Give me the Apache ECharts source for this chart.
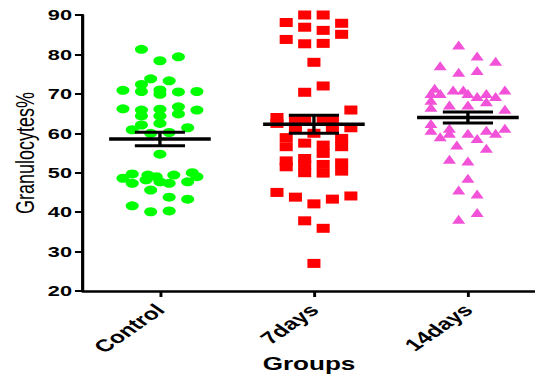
<!DOCTYPE html>
<html>
<head>
<meta charset="utf-8">
<script src="https://cdn.jsdelivr.net/npm/echarts@6/dist/echarts.min.js"></script>
<style>
html,body{margin:0;padding:0;overflow:hidden;background:#fff;}
#wrap{width:535px;height:379px;overflow:hidden;}
#chart{width:369px;height:379px;transform:scaleX(1.45);transform-origin:0 0;}
</style>
</head>
<body>
<div id="wrap"><div id="chart"></div></div>
<script>
// ---- data ----
const categories = ['Control', '7days', '14days'];
const yTicks = [20, 30, 40, 50, 60, 70, 80, 90];

// values and their jitter column (in swarm columns) per group
const controlValues = [81.3,78.4,79.4,73.8,73.3,72.4,70.9,70.6,71.0,69.9,70.5,70.6,66.2,65.9,66.1,66.7,65.9,64.4,64.4,64.9,62.5,62.1,60.9,61.4,60.0,60.2,54.7,49.7,48.6,47.3,49.4,49.0,48.2,47.7,49.4,47.3,50.0,49.0,47.7,45.6,43.8,43.3,41.6,40.1,40.3];
const controlCols   = [-2,0,2,-1,1,-2,-4,-2,0,0,2,4,-4,-2,0,2,4,-2,0,2,0,-2,-3,3,-1,1,0,-3,-4,-3,-1.3,-0.4,-1.5,0,1.5,1,3.5,4,3,-1,1,3,-3,-1,1];

const days7Values = [90.0,90.0,88.1,87.9,86.9,86.1,85.1,83.8,82.7,82.8,78.0,72.0,70.4,65.9,64.0,62.5,63.4,61.3,63.4,61.3,63.4,63.4,60.0,61.4,58.9,58.7,56.6,57.5,57.0,54.9,56.6,53.0,51.5,53.6,52.0,50.0,52.1,49.9,52.5,50.4,45.0,43.8,42.1,43.3,44.1,37.8,35.9,27.0];
const days7Cols   = [-1,1,-3,3,-1,1,3,-3,-1,1,0,1,-1,4,-4,-4,-2,-2,2,2,-1,1,0,4,-3,3,-3,-1,1,1,3,-3,-3,-1,-1,-1,1,1,3,3,-4,-2,0,2,4,-1,1,0];

const days14Values = [82.4,79.6,78.3,77.1,75.5,75.9,71.4,70.1,70.1,71.0,71.0,70.1,69.3,70.1,69.3,71.0,68.4,67.2,67.2,68.0,66.1,66.6,62.5,60.8,61.3,60.0,60.0,60.8,61.3,59.1,58.7,60.0,57.0,56.2,53.4,53.0,48.6,45.6,44.6,39.9,38.2];
const days14Cols   = [-1,1,3,-3,-1,1,-3.6,-4,-3,-1.6,-0.5,0,1,2,3,4,-4,-2,0,2,4,-4,-4,-4,-2,-2,0,2,4,-3,1,3,-1.2,2,-2,0,0,-1,1,1,-1];

// mean and SEM per group, as drawn
const means = [58.55, 62.3, 64.0];
const sems  = [1.7, 2.3, 1.4];

// ---- build ----
const colStep = 0.06;
function pts(g, vals, cols) {
  return vals.map((v, i) => [g + cols[i] * colStep, v]);
}
const summary = means.map((m, i) => [i, m, sems[i]]);

const chart = echarts.init(document.getElementById('chart'), null, {renderer: 'svg'});
const font = 'Liberation Sans, Arial, sans-serif';
chart.setOption({
  animation: false,
  backgroundColor: '#fff',
  grid: {left: 57.2, right: 0, top: 15, bottom: 88, containLabel: false, outerBoundsMode: 'none'},
  xAxis: {
    type: 'value', min: -0.5, max: 2.436,
    name: 'Groups', nameLocation: 'middle', nameGap: 64, nameMoveOverlap: false,
    nameTextStyle: {fontFamily: font, fontWeight: 'bold', fontSize: 18, color: '#000'},
    splitLine: {show: false},
    axisLine: {show: true, onZero: false, lineStyle: {color: '#000', width: 2.5}},
    axisTick: {show: true, customValues: [0, 1, 2], length: 6, lineStyle: {color: '#000', width: 2}},
    axisLabel: {
      customValues: [0, 1, 2], rotate: 45, margin: 16,
      fontFamily: font, fontWeight: 'bold', fontSize: 17, color: '#000',
      formatter: v => categories[Math.round(v)] || ''
    }
  },
  yAxis: {
    type: 'value', min: 20, max: 90, interval: 10,
    name: 'Granulocytes%', nameLocation: 'middle', nameGap: 31, nameRotate: 90, nameMoveOverlap: false,
    nameTextStyle: {fontFamily: font, fontSize: 18, color: '#000'},
    splitLine: {show: false},
    axisLine: {show: true, onZero: false, lineStyle: {color: '#000', width: 2.2}},
    axisTick: {show: true, length: 5.5, lineStyle: {color: '#000', width: 2}},
    axisLabel: {margin: 7.5, fontFamily: font, fontWeight: 'bold', fontSize: 15, color: '#000',
      formatter: v => yTicks.includes(v) ? String(v) : ''}
  },
  series: [
    {type: 'scatter', data: pts(0, controlValues, controlCols), symbol: 'circle', symbolSize: 9,
     itemStyle: {color: '#00FF00', opacity: 1}},
    {type: 'scatter', data: pts(1, days7Values, days7Cols), symbol: 'rect', symbolSize: [9, 9],
     itemStyle: {color: '#FF0000', opacity: 1}},
    {type: 'scatter', data: pts(2, days14Values, days14Cols), symbol: 'triangle', symbolSize: [9, 9],
     itemStyle: {color: '#F252D8', opacity: 1}},
    {type: 'custom', z: 10, data: summary,
     renderItem: function (params, api) {
       const g = api.value(0), m = api.value(1), s = api.value(2);
       const mL = api.coord([g - 0.33, m]), mR = api.coord([g + 0.33, m]);
       const tL = api.coord([g - 0.163, m + s]), tR = api.coord([g + 0.163, m + s]);
       const bL = api.coord([g - 0.163, m - s]), bR = api.coord([g + 0.163, m - s]);
       const top = api.coord([g, m + s]), bot = api.coord([g, m - s]);
       const st = (w) => ({stroke: '#000', lineWidth: w});
       return {type: 'group', children: [
         {type: 'line', shape: {x1: mL[0], y1: mL[1], x2: mR[0], y2: mR[1]}, style: st(3.5)},
         {type: 'line', shape: {x1: tL[0], y1: tL[1], x2: tR[0], y2: tR[1]}, style: st(3)},
         {type: 'line', shape: {x1: bL[0], y1: bL[1], x2: bR[0], y2: bR[1]}, style: st(3)},
         {type: 'line', shape: {x1: top[0], y1: top[1], x2: bot[0], y2: bot[1]}, style: st(2.3)}
       ]};
     }}
  ]
});
</script>
</body>
</html>
